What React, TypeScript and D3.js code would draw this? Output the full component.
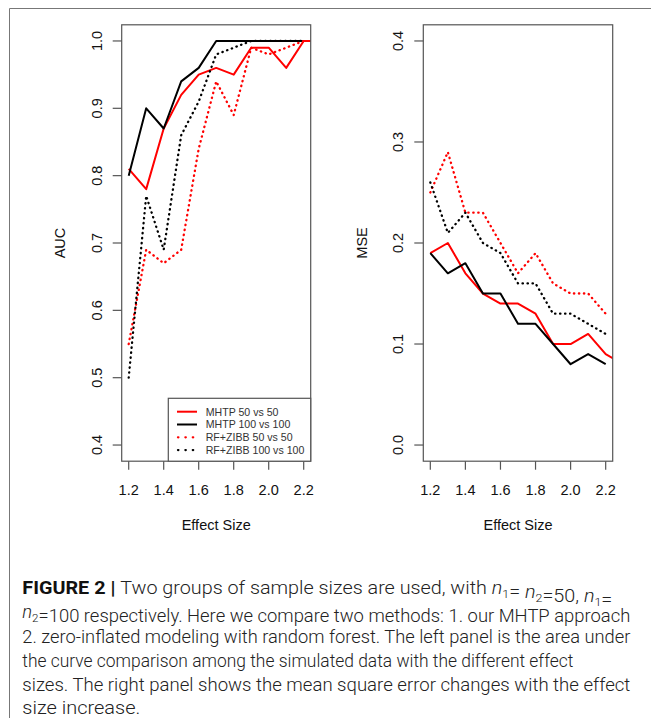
import React from 'react';
import * as d3 from 'd3';

// effect sizes on the x axis
const effectSize = [1.2, 1.3, 1.4, 1.5, 1.6, 1.7, 1.8, 1.9, 2.0, 2.1, 2.2];
// the MHTP 50 vs 50 series carries one extra point that is clipped by the plot box
const effectSizeExt = [1.2, 1.3, 1.4, 1.5, 1.6, 1.7, 1.8, 1.9, 2.0, 2.1, 2.2, 2.3];
const xTicks = [1.2, 1.4, 1.6, 1.8, 2.0, 2.2];

// AUC panel
const aucMhtp50 = [0.81, 0.78, 0.87, 0.92, 0.95, 0.96, 0.95, 0.99, 0.99, 0.96, 1.0, 1.0];
const aucMhtp100 = [0.8, 0.9, 0.87, 0.94, 0.96, 1.0, 1.0, 1.0, 1.0, 1.0, 1.0];
const aucRf50 = [0.55, 0.69, 0.67, 0.69, 0.84, 0.94, 0.89, 0.99, 0.98, 0.99, 1.0];
const aucRf100 = [0.5, 0.77, 0.69, 0.86, 0.91, 0.98, 0.99, 1.0, 1.0, 1.0, 1.0];
const aucTicks = [0.4, 0.5, 0.6, 0.7, 0.8, 0.9, 1.0];

// MSE panel
const mseMhtp50 = [0.19, 0.2, 0.17, 0.15, 0.14, 0.14, 0.13, 0.1, 0.1, 0.11, 0.09, 0.08];
const mseMhtp100 = [0.19, 0.17, 0.18, 0.15, 0.15, 0.12, 0.12, 0.1, 0.08, 0.09, 0.08];
const mseRf50 = [0.25, 0.29, 0.23, 0.23, 0.2, 0.17, 0.19, 0.16, 0.15, 0.15, 0.13];
const mseRf100 = [0.26, 0.21, 0.23, 0.2, 0.19, 0.16, 0.16, 0.13, 0.13, 0.12, 0.11];
const mseTicks = [0.0, 0.1, 0.2, 0.3, 0.4];

const legendLabels = ['MHTP 50 vs 50', 'MHTP 100 vs 100', 'RF+ZIBB 50 vs 50', 'RF+ZIBB 100 vs 100'];
const seriesColors = ['#ff0000', '#000000', '#ff0000', '#000000'];
const dotted = [false, false, true, true];

const axisFont = "'Liberation Sans', Arial, Helvetica, sans-serif";
const frameColor = '#555';

type PanelProps = {
  id: string;
  left: number;
  right: number;
  top: number;
  bottom: number;
  yDomain: [number, number];
  yTicks: number[];
  yLabel: string;
  yLabelX: number;
  yTickX: number;
  series: { xs: number[]; ys: number[] }[];
  legend?: boolean;
};

const Panel = ({ id, left, right, top, bottom, yDomain, yTicks, yLabel, yLabelX, yTickX, series, legend }: PanelProps) => {
  // R style 4% padding around the data range
  const xPad = (2.2 - 1.2) * 0.04;
  const yPad = (yDomain[1] - yDomain[0]) * 0.04;
  const x = d3.scaleLinear().domain([1.2 - xPad, 2.2 + xPad]).range([left, right]);
  const y = d3.scaleLinear().domain([yDomain[0] - yPad, yDomain[1] + yPad]).range([bottom, top]);

  const line = d3.line<[number, number]>().x(d => x(d[0])).y(d => y(d[1]));

  const cx = (left + right) / 2;
  const cy = (top + bottom) / 2;

  return (
    <g>
      <defs>
        <clipPath id={`clip-${id}`}>
          <rect x={left} y={top} width={right - left} height={bottom - top} />
        </clipPath>
      </defs>
      <g clipPath={`url(#clip-${id})`}>
        {series.map((s, i) => (
          <path
            key={i}
            d={line(s.xs.map((v, j) => [v, s.ys[j]] as [number, number])) || ''}
            fill="none"
            stroke={seriesColors[i]}
            strokeWidth={dotted[i] ? 2.3 : 2}
            strokeDasharray={dotted[i] ? '0.4,4.6' : undefined}
            strokeLinecap={dotted[i] ? 'round' : 'butt'}
            strokeLinejoin="round"
          />
        ))}
      </g>
      <rect x={left} y={top} width={right - left} height={bottom - top} fill="none" stroke={frameColor} strokeWidth={1.2} />

      {xTicks.map(t => (
        <g key={t}>
          <line x1={x(t)} x2={x(t)} y1={bottom} y2={bottom + 8.5} stroke={frameColor} strokeWidth={1.2} />
          <text x={x(t)} y={495} textAnchor="middle" fontSize={14.5} fontFamily={axisFont} fill="#111">
            {t.toFixed(1)}
          </text>
        </g>
      ))}
      {yTicks.map(t => (
        <g key={t}>
          <line x1={left} x2={left - 9} y1={y(t)} y2={y(t)} stroke={frameColor} strokeWidth={1.2} />
          <text
            transform={`translate(${yTickX},${y(t)}) rotate(-90)`}
            textAnchor="middle"
            fontSize={14.5}
            fontFamily={axisFont}
            fill="#111"
          >
            {t.toFixed(1)}
          </text>
        </g>
      ))}
      <text x={cx} y={530} textAnchor="middle" fontSize={14.5} fontFamily={axisFont} fill="#111">
        Effect Size
      </text>
      <text transform={`translate(${yLabelX},${cy}) rotate(-90)`} textAnchor="middle" fontSize={14.5} fontFamily={axisFont} fill="#111">
        {yLabel}
      </text>

      {legend && (
        <g>
          <rect x={168.3} y={398.3} width={right - 168.3} height={bottom - 398.3} fill="#fff" stroke={frameColor} strokeWidth={1.2} />
          {legendLabels.map((lab, i) => {
            const ly = 411.7 + i * 12.8;
            return (
              <g key={lab}>
                <line
                  x1={dotted[i] ? 178 : 177}
                  x2={197}
                  y1={ly}
                  y2={ly}
                  stroke={seriesColors[i]}
                  strokeWidth={dotted[i] ? 2.3 : 2}
                  strokeDasharray={dotted[i] ? '0.4,7' : undefined}
                  strokeLinecap={dotted[i] ? 'round' : 'butt'}
                />
                <text x={205.7} y={ly + 3.8} fontSize={10.6} fontFamily={axisFont} fill="#333">
                  {lab}
                </text>
              </g>
            );
          })}
        </g>
      )}
    </g>
  );
};

const captionFont = "Roboto, 'Liberation Sans', sans-serif";

const Caption = () => {
  const sub = (s: string) => (
    <>
      <tspan dy={4} fontSize={11}>{s}</tspan>
      <tspan dy={-4}></tspan>
    </>
  );
  const it = (s: string) => <tspan fontStyle="italic">{s}</tspan>;
  const common = {
    x: 22.3,
    fontSize: 17.5,
    fontFamily: captionFont,
    fontWeight: 300,
    fill: '#222',
    lengthAdjust: 'spacingAndGlyphs' as const,
  };
  return (
    <g>
      <text {...common} y={594} textLength={590}>
        <tspan fontWeight="bold" fill="#111">FIGURE 2 | </tspan>
        Two groups of sample sizes are used, with {it('n')}
        {sub('1')}= {it('n')}
        {sub('2')}=50, {it('n')}
        {sub('1')}=
      </text>
      <text {...common} y={618} textLength={608}>
        {it('n')}
        {sub('2')}=100 respectively. Here we compare two methods: 1. our MHTP approach
      </text>
      <text {...common} y={642.5} textLength={608}>
        2. zero-inflated modeling with random forest. The left panel is the area under
      </text>
      <text {...common} y={666.5} textLength={551}>
        the curve comparison among the simulated data with the different effect
      </text>
      <text {...common} y={690.5} textLength={608}>
        sizes. The right panel shows the mean square error changes with the effect
      </text>
      <text {...common} y={714} textLength={118}>
        size increase.
      </text>
    </g>
  );
};

const App = () => {
  return (
    <svg width={651} height={718} style={{ position: 'absolute', left: 0, top: 0, background: '#fff' }}>
      <path d="M9.5,718 V8.5 H651" fill="none" stroke="#777" strokeWidth={1} />
      <Panel
        id="auc"
        left={121.7}
        right={310.7}
        top={24.8}
        bottom={461.2}
        yDomain={[0.4, 1.0]}
        yTicks={aucTicks}
        yLabel="AUC"
        yLabelX={65}
        yTickX={101.5}
        series={[
          { xs: effectSizeExt, ys: aucMhtp50 },
          { xs: effectSize, ys: aucMhtp100 },
          { xs: effectSize, ys: aucRf50 },
          { xs: effectSize, ys: aucRf100 },
        ]}
        legend
      />
      <Panel
        id="mse"
        left={423.3}
        right={612.7}
        top={24.8}
        bottom={461.2}
        yDomain={[0.0, 0.4]}
        yTicks={mseTicks}
        yLabel="MSE"
        yLabelX={366.7}
        yTickX={403.3}
        series={[
          { xs: effectSizeExt, ys: mseMhtp50 },
          { xs: effectSize, ys: mseMhtp100 },
          { xs: effectSize, ys: mseRf50 },
          { xs: effectSize, ys: mseRf100 },
        ]}
      />
      <Caption />
    </svg>
  );
};

export default App;
